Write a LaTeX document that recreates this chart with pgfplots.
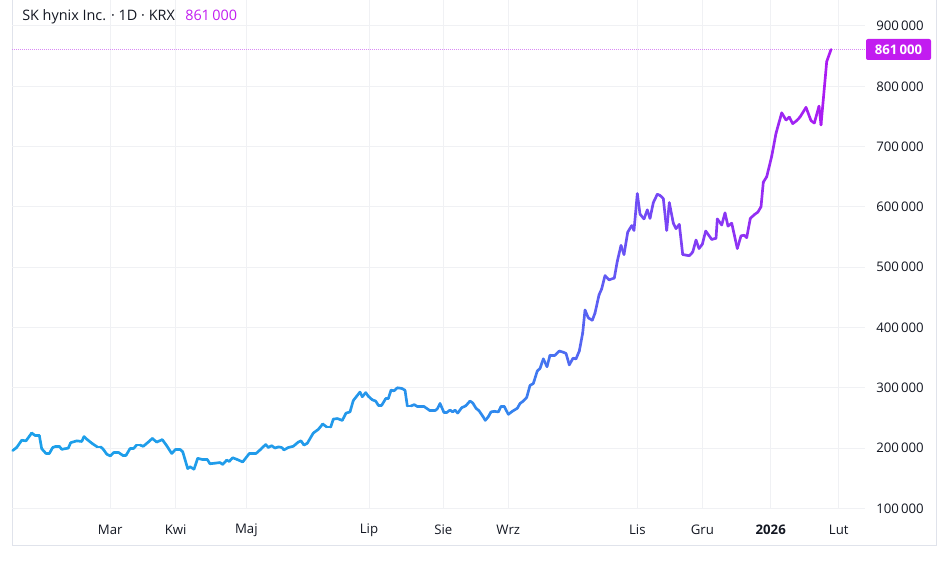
\documentclass[border=0pt]{standalone}
\usepackage{pgfplots}
\pgfplotsset{compat=1.18}
\usepackage{fontspec}
\setmainfont{Open Sans}
\definecolor{txt}{HTML}{131722}
\definecolor{gridc}{HTML}{F0F1F4}
\definecolor{framec}{HTML}{E0E3EB}
\definecolor{mag}{HTML}{C21CF0}
\definecolor{magl}{HTML}{D98AF5}
\begin{document}
\begin{tikzpicture}
\path[use as bounding box] (0,0) rectangle (711pt,427.5pt);
\draw[framec, line width=0.75pt] (9pt,427.5pt) -- (9pt,18pt) -- (702pt,18pt) -- (702pt,427.5pt);
\begin{axis}[
  at={(9pt,45.75pt)}, anchor=south west,
  scale only axis, width=639.75pt, height=381.75pt,
  xmin=12, xmax=865, ymin=99000, ymax=943100,
  axis line style={draw=none},
  major tick length=0pt,
  xtick={110.3,175.7,246.3,369,443.3,508.3,637.3,702.3,770.7,838.7},
  xticklabels={Mar,Kwi,Maj,Lip,Sie,Wrz,Lis,Gru,\textbf{2026},Lut},
  ytick={100000,200000,300000,400000,500000,600000,700000,800000,900000},
  yticklabel pos=right,
  scaled y ticks=false,
  /pgf/number format/.cd, fixed, 1000 sep={\,}, assume math mode=true,
  /pgfplots/.cd,
  xmajorgrids, ymajorgrids,
  grid style={gridc, line width=0.75pt},
  xticklabel style={font=\fontsize{9.9}{11}\selectfont, text=txt, anchor=center, inner sep=0pt, yshift=-15.75pt},
  yticklabel style={font=\fontsize{9.9}{11}\selectfont, text=txt, anchor=east, inner sep=0pt, xshift=44.25pt},
  colormap={tv}{rgb255(1.2cm)=(28,160,234); rgb255(33cm)=(34,154,234); rgb255(50cm)=(48,136,238); rgb255(64cm)=(112,76,245); rgb255(83cm)=(172,26,242)},
  point meta min=12, point meta max=831,
  clip=false,
]
\draw[color=magl, line width=0.75pt, dash pattern=on 0.75pt off 0.75pt] (axis cs:12,861000) -- (axis cs:865,861000);
\addplot[mesh, point meta=x, line width=2pt, line cap=round, line join=round] table {
x y
12.7 196000
16.7 201000
21.7 213000
26 212000
31.7 225000
35 221000
39.3 221000
41.7 199000
46 191000
49.3 191000
52.7 201000
56 203000
59.3 203000
61.7 198000
68.3 200000
70.7 209000
76.7 212000
81.7 211000
84 219000
87.3 214000
92.7 207000
97.3 202000
100.7 202000
103.3 198000
106.7 190000
110.3 187000
114 193000
118.3 193000
122.7 188000
126 188000
130 199000
133.3 199000
136.7 205000
140 205000
143.3 203000
148.3 210000
152.3 216000
156.7 210000
162.3 214000
166.7 204000
171.7 191000
175.7 198000
180 198000
182.7 194000
187.7 166000
190 169000
194 165000
197.7 183000
202.7 181000
207.3 181000
210 174000
215 175000
220 176000
222.7 173000
226.7 180000
229.3 178000
232.7 184000
237.3 181000
242.7 177000
249.3 191000
256 191000
260.7 198000
265.7 206000
268.3 201000
271.7 204000
275 200000
278.3 202000
281.7 201000
284 197000
288.3 201000
293.3 203000
298.3 210000
301 212000
304 205000
307.3 208000
313.3 225000
318.3 231000
322.7 240000
326.7 235000
330.7 235000
333.3 248000
337.3 249000
342.3 246000
346 258000
350 260000
353.3 279000
356.7 286000
360 293000
362.3 285000
365.7 292000
368.3 286000
372.3 280000
375.7 278000
378.3 271000
381.7 271000
385.7 282000
388.3 282000
391 296000
394 295000
397.3 300000
401.7 299000
405 296000
407.3 270000
411 270000
414.3 272000
417.3 269000
424 269000
430 262000
435 262000
437.3 265000
440 274000
444 259000
446.7 259000
450 263000
452.7 260000
455 263000
457.7 258000
461.7 267000
465.7 270000
470 278000
472.7 275000
476 266000
479 262000
482.7 253000
485.3 246000
488.3 252000
491 260000
494.3 261000
498.3 260000
501 269000
504.3 269000
508.3 256000
512.3 261000
517.3 266000
520 274000
523.3 278000
526.7 284000
530 304000
533.3 307000
537.3 328000
540 332000
543.3 348000
547 335000
550 354000
555 354000
559.3 361000
563.3 359000
566 357000
569.3 338000
573 349000
576 348000
579.3 361000
582.7 391000
585 429000
588.3 416000
592.3 412000
595 424000
599 454000
601.7 464000
605 486000
609 479000
614.3 482000
617.3 510000
621 536000
624 521000
627.7 558000
631.7 569000
634 561000
637.3 622000
640 588000
644 580000
647.3 595000
650 581000
653.3 607000
657.3 621000
660 619000
663.3 614000
666.7 561000
669.3 607000
673.3 573000
676 564000
679.3 571000
682.7 521000
686 520000
689.3 519000
692.7 525000
696 545000
699 531000
702.3 538000
705.7 560000
711.7 546000
716 548000
717.3 580000
721.7 570000
725 590000
728 568000
731.7 573000
737.3 531000
741 552000
744.3 553000
746.7 549000
750.3 581000
755 588000
757.7 591000
761 600000
763.3 641000
766.7 650000
771.7 684000
776 722000
781.7 756000
786 744000
789.3 749000
792.7 738000
796.7 743000
800 749000
806 765000
811 743000
814.3 739000
819 767000
821 736000
826.7 841000
831 861000
};
\end{axis}
\node[anchor=base west, inner sep=0pt, text=txt, font=\fontsize{10.8}{12}\selectfont] at (16.5pt,412pt) {SK hynix Inc. · 1D · KRX};
\node[anchor=base west, inner sep=0pt, text=mag, font=\fontsize{10.8}{12}\selectfont] at (138.75pt,412pt) {861\,000};
\fill[mag, rounded corners=1.5pt] (649.5pt,382.5pt) rectangle (698.25pt,398.25pt);
\node[anchor=center, inner sep=0pt, text=white, font=\fontsize{9.9}{11}\selectfont\bfseries] at (673.9pt,390.4pt) {861\,000};
\end{tikzpicture}
\end{document}
